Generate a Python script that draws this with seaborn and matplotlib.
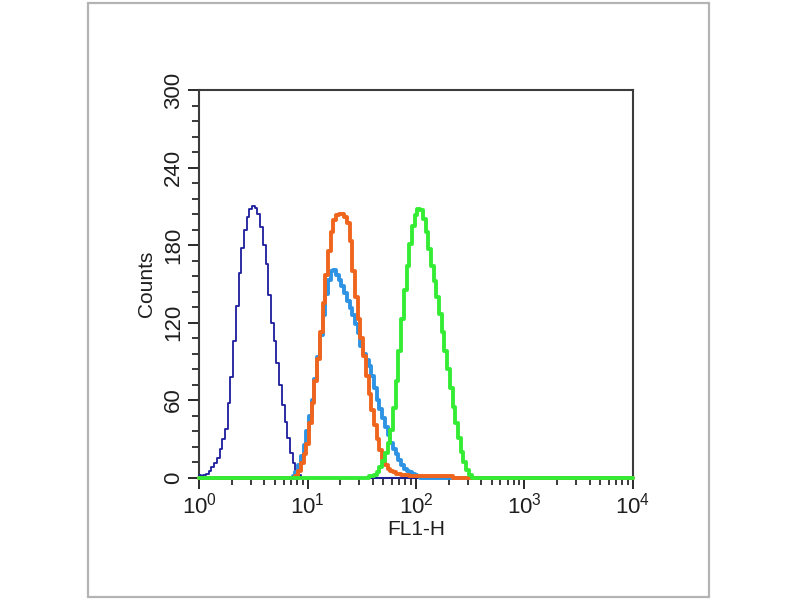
import numpy as np
import pandas as pd
import matplotlib
matplotlib.use("Agg")
import matplotlib.pyplot as plt
import matplotlib.ticker as mticker
from matplotlib.patches import Rectangle
import seaborn as sns

# ---------------------------------------------------------------
# data (log10 FL1-H channels, 0.025 decade)
# ---------------------------------------------------------------
step = 0.025
n_channels = 161                      # 0 .. 4 decades

navy_start = 0.0
navy_counts = [2, 1, 2, 3, 5, 8, 11, 15, 22, 30, 38, 58, 78, 106, 133, 158,
               178, 192, 202, 208, 210, 209, 204, 194, 180, 165, 141, 120,
               106, 89, 72, 56, 43, 31, 19, 11, 5, 2, 0]

skyblue_start = 0.875
skyblue_counts = [1, 4, 10, 17, 25, 36, 48, 60, 76, 93, 110, 126, 142, 153,
                  160, 161, 157, 153, 148, 143, 137, 131, 126, 119, 112, 102,
                  96, 91, 86, 79, 69, 60, 53, 46, 39, 33, 27, 22, 18, 14, 10,
                  7, 5, 4, 3, 2, 1, 0]

orange_start = 0.9
orange_counts = [1, 5, 11, 18, 26, 42, 58, 75, 92, 113, 135, 157, 175, 190,
                 199, 203, 204, 204, 202, 197, 183, 160, 140, 123, 108, 94,
                 79, 65, 52, 41, 30, 21, 14, 10, 7, 5, 4, 3, 3, 2, 2, 2, 1,
                 1, 1, 1, 1, 1, 1, 1, 1, 1, 1, 1, 1, 1, 1, 1, 0]

green_start = 1.575
green_counts = [1, 1, 2, 4, 8, 13, 19, 27, 37, 54, 75, 98, 123, 145, 164, 181,
                195, 203, 208, 207, 200, 190, 177, 164, 152, 140, 127, 113,
                98, 84, 69, 55, 42, 31, 20, 12, 6, 2, 0]

y_ticks = [0, 60, 120, 180, 240, 300]
x_decades = [1, 10, 100, 1000, 10000]

log_fl1 = np.arange(n_channels) * step
fl1 = 10 ** log_fl1


def full_trace(start, counts):
    # place the measured counts on the shared channel axis, rest is zero
    trace = np.zeros(n_channels)
    i0 = int(round(start / step))
    trace[i0:i0 + len(counts)] = counts
    return trace


hist = pd.DataFrame({
    "FL1-H": fl1,
    "navy": full_trace(navy_start, navy_counts),
    "skyblue": full_trace(skyblue_start, skyblue_counts),
    "orange": full_trace(orange_start, orange_counts),
    "green": full_trace(green_start, green_counts),
})

# ---------------------------------------------------------------
# figure
# ---------------------------------------------------------------
sns.set_style("ticks")
plt.rcParams["font.family"] = ["Liberation Sans", "DejaVu Sans"]

fig = plt.figure(figsize=(8, 6), dpi=100)
ax = fig.add_axes([0.249, 0.204, 0.542, 0.646])

styles = [("navy", "#1c1c9e", 1.3),
          ("skyblue", "#2f93e3", 2.8),
          ("orange", "#f0651e", 2.8),
          ("green", "#35ec35", 2.8)]
for col, colour, lw in styles:
    sns.lineplot(data=hist, x="FL1-H", y=col, color=colour, linewidth=lw,
                 drawstyle="steps-mid", ax=ax, clip_on=False, zorder=3)

ax.set_xscale("log")
ax.set_xlim(1, 10000)
ax.set_ylim(0, 300)
ax.set_xticks(x_decades)
ax.xaxis.set_minor_locator(mticker.LogLocator(base=10, subs=np.arange(2, 10)))
ax.xaxis.set_major_formatter(mticker.LogFormatterSciNotation())
ax.set_yticks(y_ticks)
ax.yaxis.set_minor_locator(mticker.MultipleLocator(12))

for side in ["left", "right", "top", "bottom"]:
    ax.spines[side].set_color("#3c3c3c")
    ax.spines[side].set_linewidth(1.5)

ax.tick_params(which="major", direction="out", length=8, width=1.4,
               color="#2a2a2a", labelsize=16, labelcolor="#1e1e1e")
ax.tick_params(which="minor", direction="out", length=5, width=1.3,
               color="#2a2a2a")
ax.tick_params(axis="x", which="major", pad=3)
ax.tick_params(axis="y", which="major", pad=3)
plt.setp(ax.get_yticklabels(), rotation=90, va="center")

ax.set_xlabel("FL1-H", fontsize=15, color="#1e1e1e", labelpad=1)
ax.set_ylabel("Counts", fontsize=15, color="#1e1e1e", labelpad=5)

# light grey frame round the whole picture
fig.patches.append(Rectangle((0.11, 0.005), 0.776, 0.99, transform=fig.transFigure,
                             fill=False, edgecolor="#b4b4b4", linewidth=1.6))

fig.savefig("out.png", dpi=100)
